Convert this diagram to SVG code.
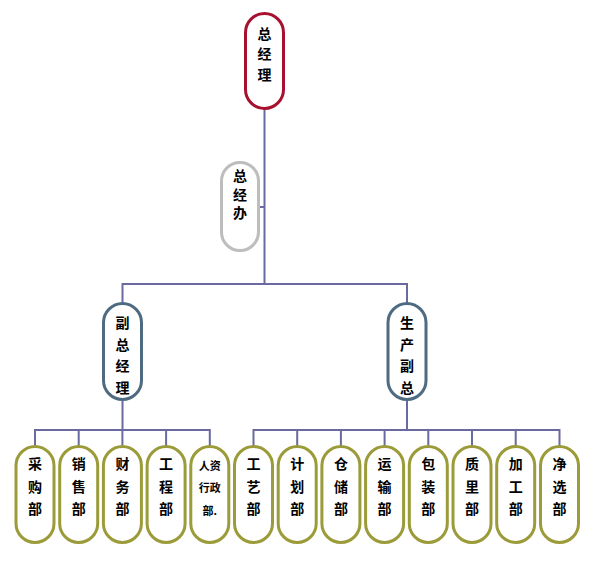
<svg xmlns="http://www.w3.org/2000/svg" width="599" height="568" viewBox="0 0 599 568">
<style>
.n rect{fill:#fff;stroke-width:3}
.top rect{stroke:#A8102F}
.off rect{stroke:#BDBDBD}
.vp rect{stroke:#4E6B82}
.dep rect{stroke:#9B9B3A}
text{font-family:"Noto Sans CJK SC","Noto Sans",sans-serif;font-weight:bold;font-size:14px;fill:#000;text-anchor:middle;dominant-baseline:central}
text.s{font-size:11px}
.c{stroke:#6A6AA0;stroke-width:2;fill:none}
</style>
<rect width="599" height="568" fill="#fff"/>
<g id="connectors" class="c">
<path d="M264.5 109V284M264.5 207H259M122.5 284H407M122.5 283V303M407 283V303"/>
<path d="M122.5 400V430M35 430H210M35 429V446M78.7 429V446M122.4 429V446M166.1 429V446M209.8 429V446"/>
<path d="M407 400V430M253.5 430H560M253.5 429V446M297.2 429V446M340.9 429V446M384.6 429V446M428.3 429V446M472 429V446M515.7 429V446M559.5 429V446"/>
</g>
<g id="n-gm" class="n top"><rect x="245.5" y="13.5" width="38" height="95" rx="19"/><text x="264.5" y="33">总</text><text x="264.5" y="53">经</text><text x="264.5" y="74">理</text></g>
<g id="n-office" class="n off"><rect x="221.5" y="162.5" width="37" height="88" rx="18.5"/><text x="240" y="175">总</text><text x="240" y="193.5">经</text><text x="240" y="212">办</text></g>
<g id="n-vgm" class="n vp"><rect x="103.5" y="303.5" width="38" height="96" rx="19"/><text x="122.5" y="322">副</text><text x="122.5" y="343.5">总</text><text x="122.5" y="365">经</text><text x="122.5" y="386.5">理</text></g>
<g id="n-prod" class="n vp"><rect x="388" y="303.5" width="38" height="96" rx="19"/><text x="407" y="322">生</text><text x="407" y="343.5">产</text><text x="407" y="365">副</text><text x="407" y="386.5">总</text></g>
<g id="n-d1" class="n dep"><rect x="16" y="446.5" width="38" height="96" rx="19"/><text x="35" y="463">采</text><text x="35" y="485.5">购</text><text x="35" y="508">部</text></g>
<g id="n-d2" class="n dep"><rect x="59.7" y="446.5" width="38" height="96" rx="19"/><text x="78.7" y="463">销</text><text x="78.7" y="485.5">售</text><text x="78.7" y="508">部</text></g>
<g id="n-d3" class="n dep"><rect x="103.4" y="446.5" width="38" height="96" rx="19"/><text x="122.4" y="463">财</text><text x="122.4" y="485.5">务</text><text x="122.4" y="508">部</text></g>
<g id="n-d4" class="n dep"><rect x="147.1" y="446.5" width="38" height="96" rx="19"/><text x="166.1" y="463">工</text><text x="166.1" y="485.5">程</text><text x="166.1" y="508">部</text></g>
<g id="n-d5" class="n dep"><rect x="190.8" y="446.5" width="38" height="96" rx="19"/><text class="s" x="209.8" y="465">人资</text><text class="s" x="209.8" y="487">行政</text><text class="s" x="209.8" y="510">部.</text></g>
<g id="n-d6" class="n dep"><rect x="234.5" y="446.5" width="38" height="96" rx="19"/><text x="253.5" y="463">工</text><text x="253.5" y="485.5">艺</text><text x="253.5" y="508">部</text></g>
<g id="n-d7" class="n dep"><rect x="278.2" y="446.5" width="38" height="96" rx="19"/><text x="297.2" y="463">计</text><text x="297.2" y="485.5">划</text><text x="297.2" y="508">部</text></g>
<g id="n-d8" class="n dep"><rect x="321.9" y="446.5" width="38" height="96" rx="19"/><text x="340.9" y="463">仓</text><text x="340.9" y="485.5">储</text><text x="340.9" y="508">部</text></g>
<g id="n-d9" class="n dep"><rect x="365.6" y="446.5" width="38" height="96" rx="19"/><text x="384.6" y="463">运</text><text x="384.6" y="485.5">输</text><text x="384.6" y="508">部</text></g>
<g id="n-d10" class="n dep"><rect x="409.3" y="446.5" width="38" height="96" rx="19"/><text x="428.3" y="463">包</text><text x="428.3" y="485.5">装</text><text x="428.3" y="508">部</text></g>
<g id="n-d11" class="n dep"><rect x="453" y="446.5" width="38" height="96" rx="19"/><text x="472" y="463">质</text><text x="472" y="485.5">里</text><text x="472" y="508">部</text></g>
<g id="n-d12" class="n dep"><rect x="496.7" y="446.5" width="38" height="96" rx="19"/><text x="515.7" y="463">加</text><text x="515.7" y="485.5">工</text><text x="515.7" y="508">部</text></g>
<g id="n-d13" class="n dep"><rect x="540.5" y="446.5" width="38" height="96" rx="19"/><text x="559.5" y="463">净</text><text x="559.5" y="485.5">选</text><text x="559.5" y="508">部</text></g>
</svg>
